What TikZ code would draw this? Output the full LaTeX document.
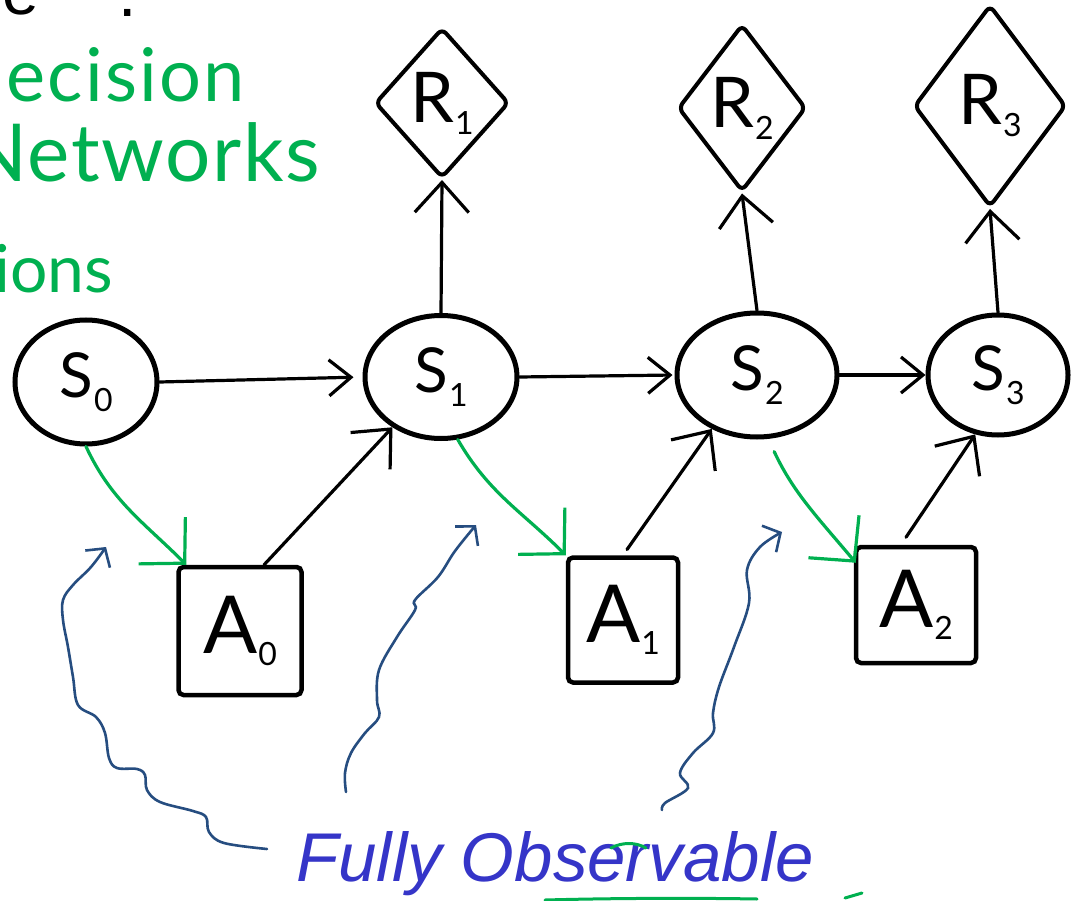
\documentclass[tikz,border=0pt]{standalone}
\usepackage{fontspec}
\setmainfont{Liberation Sans}
\newfontfamily\hand{Lato}
\usetikzlibrary{shapes.geometric,arrows.meta,calc}
\definecolor{pgreen}{HTML}{00B050}
\definecolor{pblue}{HTML}{264D80}
\definecolor{tblue}{HTML}{3535C8}
\newcommand\subl[4]{{\fontsize{#3}{#3}\selectfont #1}\kern1pt\raisebox{-#4pt}{\fontsize{32}{32}\selectfont #2}}
\begin{document}
\begin{tikzpicture}[x=1pt,y=-1pt,
  state/.style={ellipse, draw, line width=5pt, inner sep=0pt, font=\hand},
  actbox/.style={rectangle, draw, line width=4.5pt, inner sep=0pt, rounded corners=5pt, font=\hand},
  rewbox/.style={diamond, draw, line width=4pt, inner sep=0pt, rounded corners=6pt, font=\hand},
  blk/.style={line width=3.2pt, line cap=round, -{Straight Barb[length=30pt,width=54pt]}},
  blkh/.style={line width=3.2pt, line cap=round, -{Straight Barb[length=22pt,width=36pt]}},
  grn/.style={pgreen, line width=3.2pt, line cap=round, -{Straight Barb[length=32pt,width=66pt]}},
  blu/.style={pblue, line width=2.6pt, line cap=round, -{Straight Barb[length=13pt,width=30pt]}},
  gtext/.style={anchor=base west, text=pgreen, inner sep=0pt},
]
\path[use as bounding box, clip] (0,0) rectangle (1076,901);
\fill[white] (0,0) rectangle (1076,901);

% top-left texts
\node[anchor=base west, inner sep=0pt, font=\fontsize{66}{66}\selectfont] (te) at (2,15) {e};
\node[anchor=base west, inner sep=0pt, font=\fontsize{66}{66}\selectfont] (tdot) at (118,17) {.};
\node[gtext, font={\hand\fontsize{74}{74}\selectfont\addfontfeature{LetterSpace=3}}] (t1) at (6,102) {ecision};
\node[gtext, font={\hand\fontsize{80}{80}\selectfont\addfontfeature{LetterSpace=2}}] (t2) at (-34,182) {Networks};
\node[gtext, font={\hand\fontsize{66}{66}\selectfont}] (t3) at (-6,293) {ions};

% states
\node[state, minimum width=142pt, minimum height=124pt] (S0) at (86,382) {\subl{S}{0}{62}{14}};
\node[state, minimum width=152pt, minimum height=123pt] (S1) at (441,377) {\subl{S}{1}{62}{14}};
\node[state, minimum width=160pt, minimum height=124pt] (S2) at (757,375) {\subl{S}{2}{62}{14}};
\node[state, minimum width=140pt, minimum height=120pt] (S3) at (998,375) {\subl{S}{3}{62}{14}};

% actions
\node[actbox, minimum width=123pt, minimum height=128pt] (A0) at (240,631) {\subl{A}{0}{80}{12}};
\node[actbox, minimum width=110pt, minimum height=125pt] (A1) at (623,620) {\subl{A}{1}{80}{12}};
\node[actbox, minimum width=120pt, minimum height=116pt] (A2) at (916,605) {\subl{A}{2}{80}{12}};

% rewards
\node[rewbox, minimum width=134pt, minimum height=150pt] (R1) at (442,103) {\subl{R}{1}{70}{12}};
\node[rewbox, minimum width=128pt, minimum height=167pt] (R2) at (742,108) {\subl{R}{2}{70}{12}};
\node[rewbox, minimum width=152pt, minimum height=202pt] (R3) at (990,106) {\subl{R}{3}{70}{12}};

% black arrows
\draw[blkh, shorten >=9pt] (S0.east) -- (S1.west);
\draw[blkh, shorten >=2pt] (S1.east) -- (S2.west);
\draw[blkh] (S2.east) -- (S3.west);
\draw[blk] (S1.north) -- (R1.south);
\draw[blk] (S2.north) -- (R2.south);
\draw[blk] (S3.north) -- (R3.south);
\draw[blk] (A0.70) -- (S1.226);
\draw[blk, shorten <=7pt] (A1.north) -- (S2.230);
\draw[blk, shorten <=9pt] (A2.104) -- (S3.249);

% green policy arrows
\draw[grn] (S0.south) to[out=-65,in=135] ($(A0.north west)+(10,0)$);
\draw[grn] (S1.-75) to[out=-60,in=135] (A1.north west);
\draw[grn, shorten <=14pt] (S2.-80) to[out=-65,in=130] ($(A2.north west)+(2,18)$);

% text
\node[anchor=base west, inner sep=0pt, text=tblue, font=\fontsize{69}{69}\selectfont\itshape] (fo) at (296,881) {Fully Observable};

% blue pointers
\coordinate (b1s) at (267,849); \coordinate (b1e) at (106,547);
\coordinate (b2s) at (346,792); \coordinate (b2e) at (476,525);
\coordinate (b3s) at (662,810); \coordinate (b3e) at (782,532);
\draw[blu] plot[smooth, tension=0.6] coordinates {(b1s) (224,843) (209,832) (206,817) (193,811) (160,802) (147,790) (145,775) (137,769) (117,768) (109,758) (105,733) (96,717) (78,705) (73,677) (68,647) (63,620) (63,600) (73,585) (91,567) (b1e)};
\draw[blu] plot[smooth, tension=0.6] coordinates {(b2s) (345,773) (351,753) (365,733) (379,717) (377,700) (379,670) (397,637) (415,610) (415,600) (438,577) (455,551) (b2e)};
\draw[blu] plot[smooth, tension=0.6] coordinates {(b3s) (665,803) (688,788) (680,773) (693,753) (713,733) (713,713) (719,687) (734,647) (749,603) (747,570) (760,547) (b3e)};

% green marks
\draw[pgreen, line width=3pt, line cap=round] (611,848) .. controls (622,842) and (636,842) .. (646,848);
\draw[pgreen, line width=3pt, line cap=round] (545,900) .. controls (620,898) and (700,898) .. (757,899);
\draw[pgreen, line width=3pt, line cap=round] (845,898) -- (862,893);
\end{tikzpicture}
\end{document}
